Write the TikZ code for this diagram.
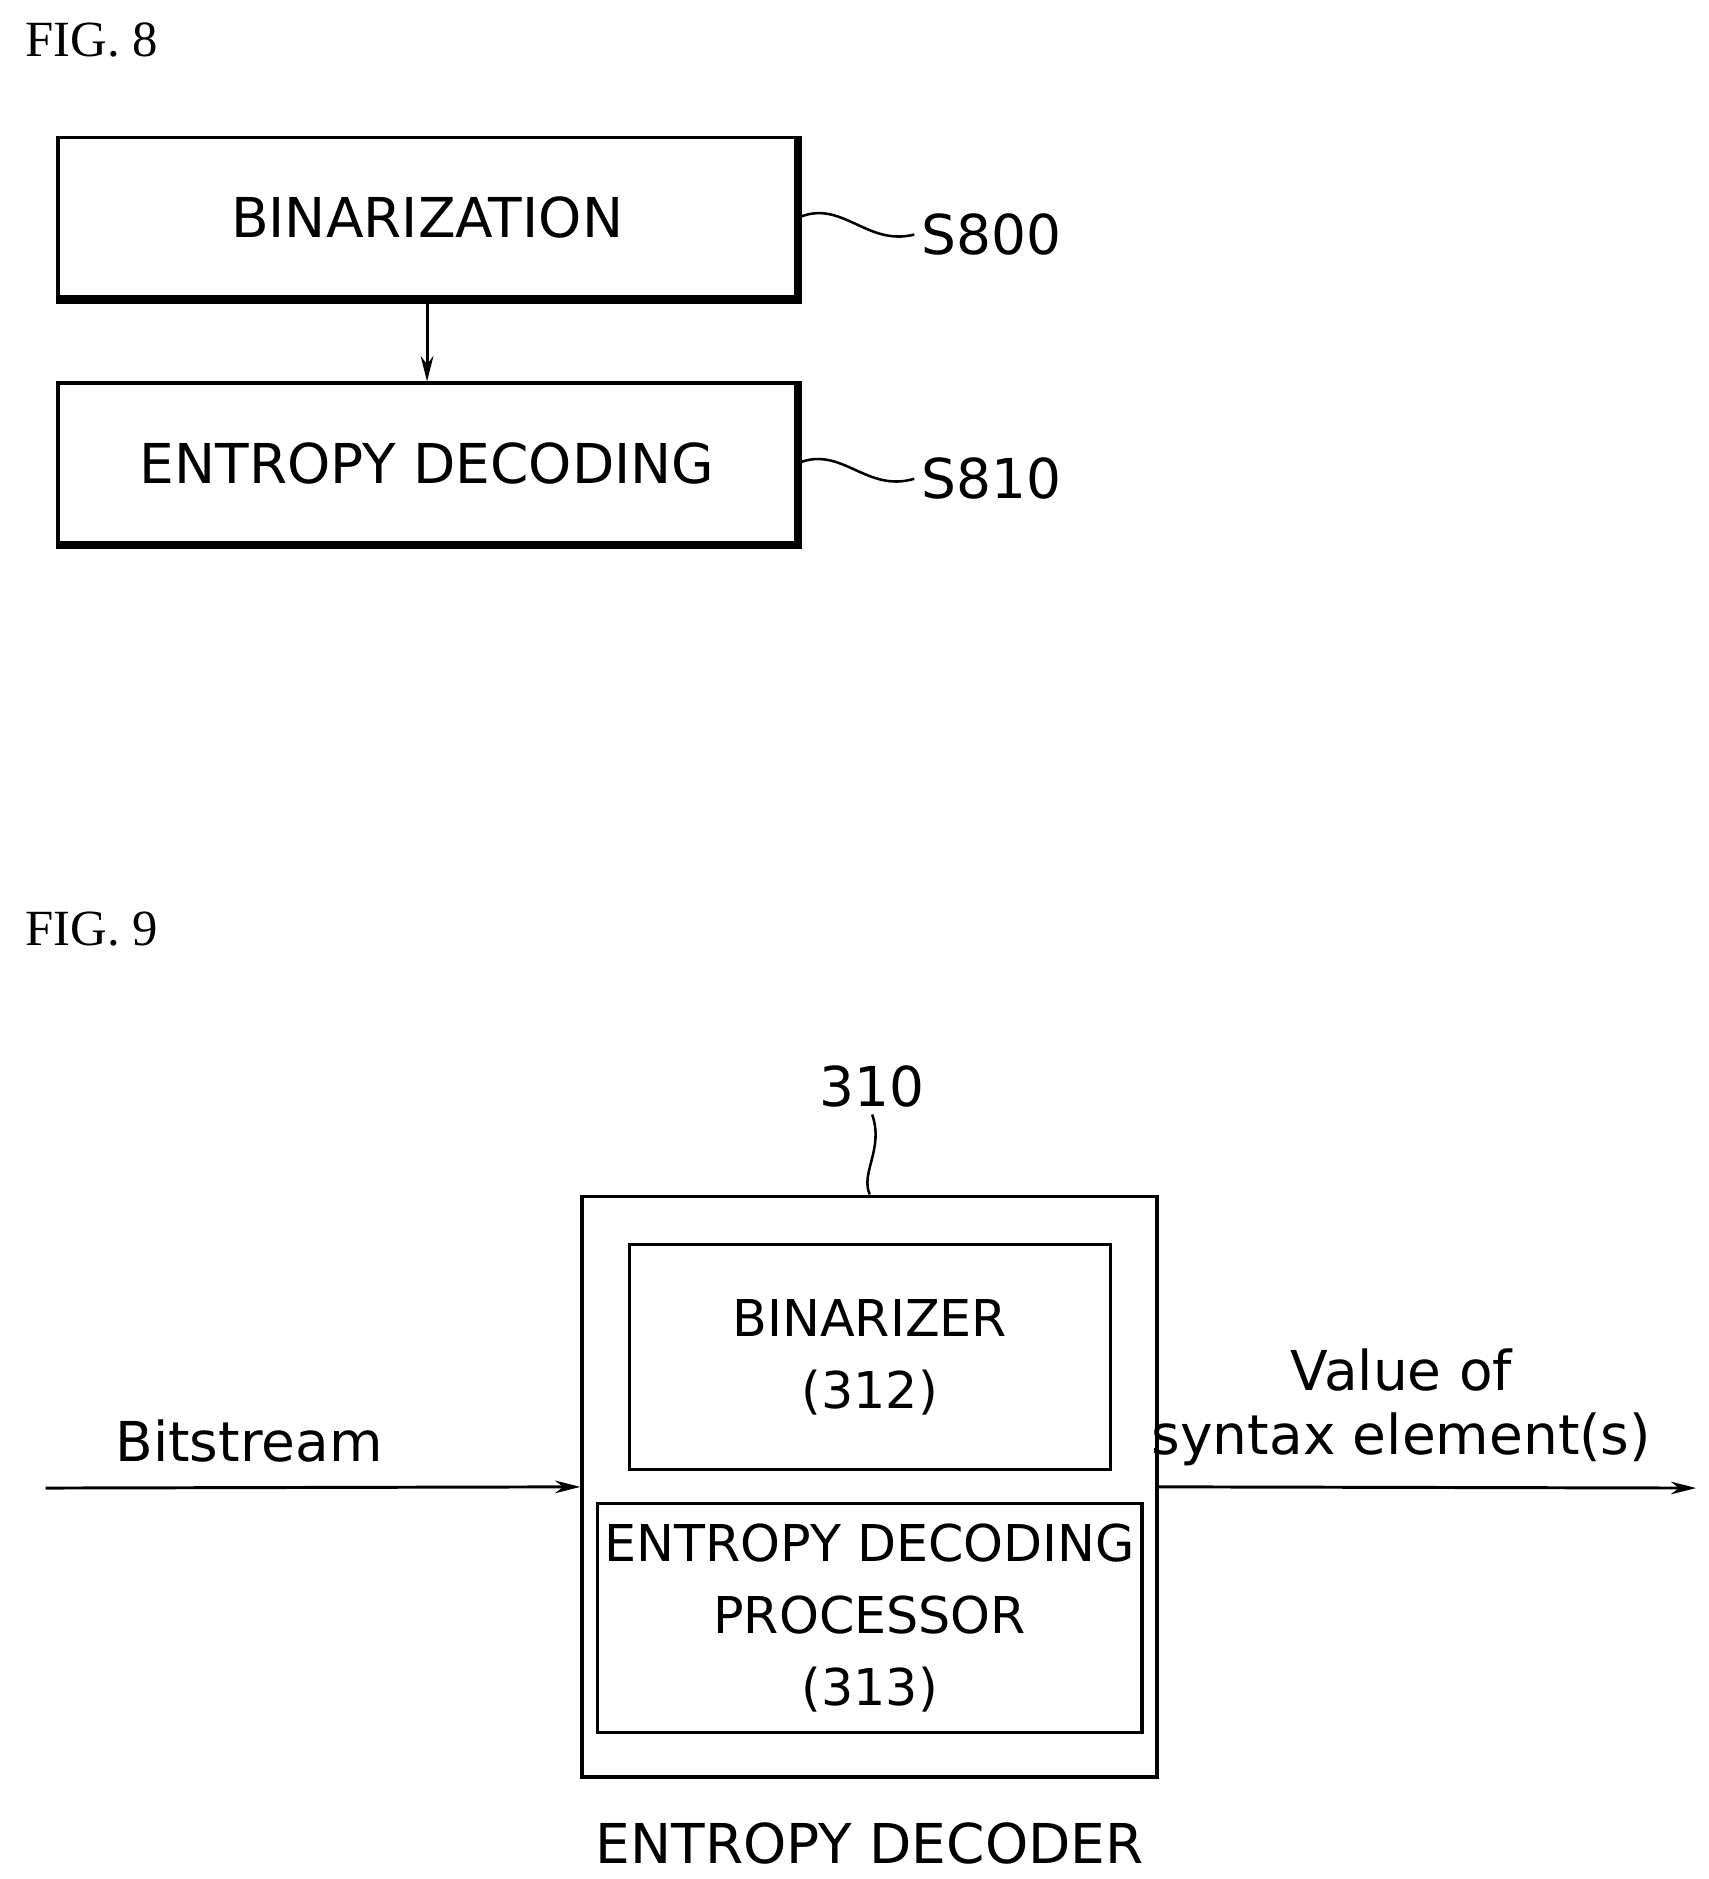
\documentclass[tikz,border=0pt]{standalone}
\usepackage{fontspec}
\setmainfont{Liberation Serif}
\newfontfamily\labfont{DejaVu Sans}
\usetikzlibrary{positioning,arrows.meta}
\begin{document}
\begin{tikzpicture}[x=0.02cm,y=-0.02cm,
  stepbox/.style={draw,line width=1.6pt,minimum width=12.28cm,minimum height=2.66cm,font=\labfont\fontsize{26}{30}\selectfont},
  blk/.style={draw,line width=1.6pt,minimum width=8cm,font=\labfont\fontsize{24}{34}\selectfont,align=center},
  lbl/.style={font=\labfont\fontsize{26}{30}\selectfont},
  flow/.style={line width=1.4pt,-{Stealth[length=12pt,width=6pt]}}]
\useasboundingbox (0,0) rectangle (1420,1562);
% FIG. 8
\node[font=\fontsize{24}{28}\selectfont,anchor=west] (f8) at (15,33) {FIG. 8};
\node[stepbox] (bin) at (355,181) {BINARIZATION};
\node[stepbox] (ent) at (355,385) {ENTROPY DECODING};
\foreach \b in {bin,ent}
  \draw[line width=4pt] (\b.north east) -- (\b.south east) -- (\b.south west);
\draw[flow] (bin.south) -- (ent.north);
\node[lbl,anchor=west] (s800) at (760,195) {S800};
\node[lbl,anchor=west] (s810) at (760,398) {S810};
\draw[line width=1.2pt] (bin.east) .. controls (700,165) and (720,205) .. (s800.west);
\draw[line width=1.2pt] (ent.east) .. controls (700,370) and (720,410) .. (s810.west);
% FIG. 9
\node[font=\fontsize{24}{28}\selectfont,anchor=west] (f9) at (15,772) {FIG. 9};
\node[draw,line width=1.8pt,minimum width=9.56cm,minimum height=9.66cm] (dec) at (723,1236) {};
\node[blk,minimum height=3.74cm] (bz) at (723,1128) {BINARIZER\\(312)};
\node[blk,minimum height=3.8cm] (edp) at (723,1345) {ENTROPY DECODING\\PROCESSOR\\(313)};
\node[lbl] (n310) at (725,903) {310};
\draw[line width=1.2pt] (dec.north) .. controls (715,975) and (735,955) .. (n310.south);
\node[lbl,below=0.6cm of dec] (dname) {ENTROPY DECODER};
\coordinate (in) at (38,1237);
\coordinate (out) at (1410,1237);
\draw[flow] (in) -- (dec.west);
\draw[flow] (dec.east) -- (out);
\node[lbl] (bs) at (207,1198) {Bitstream};
\node[lbl,align=center] (val) at (1165,1170) {Value of\\syntax element(s)};
\end{tikzpicture}
\end{document}
